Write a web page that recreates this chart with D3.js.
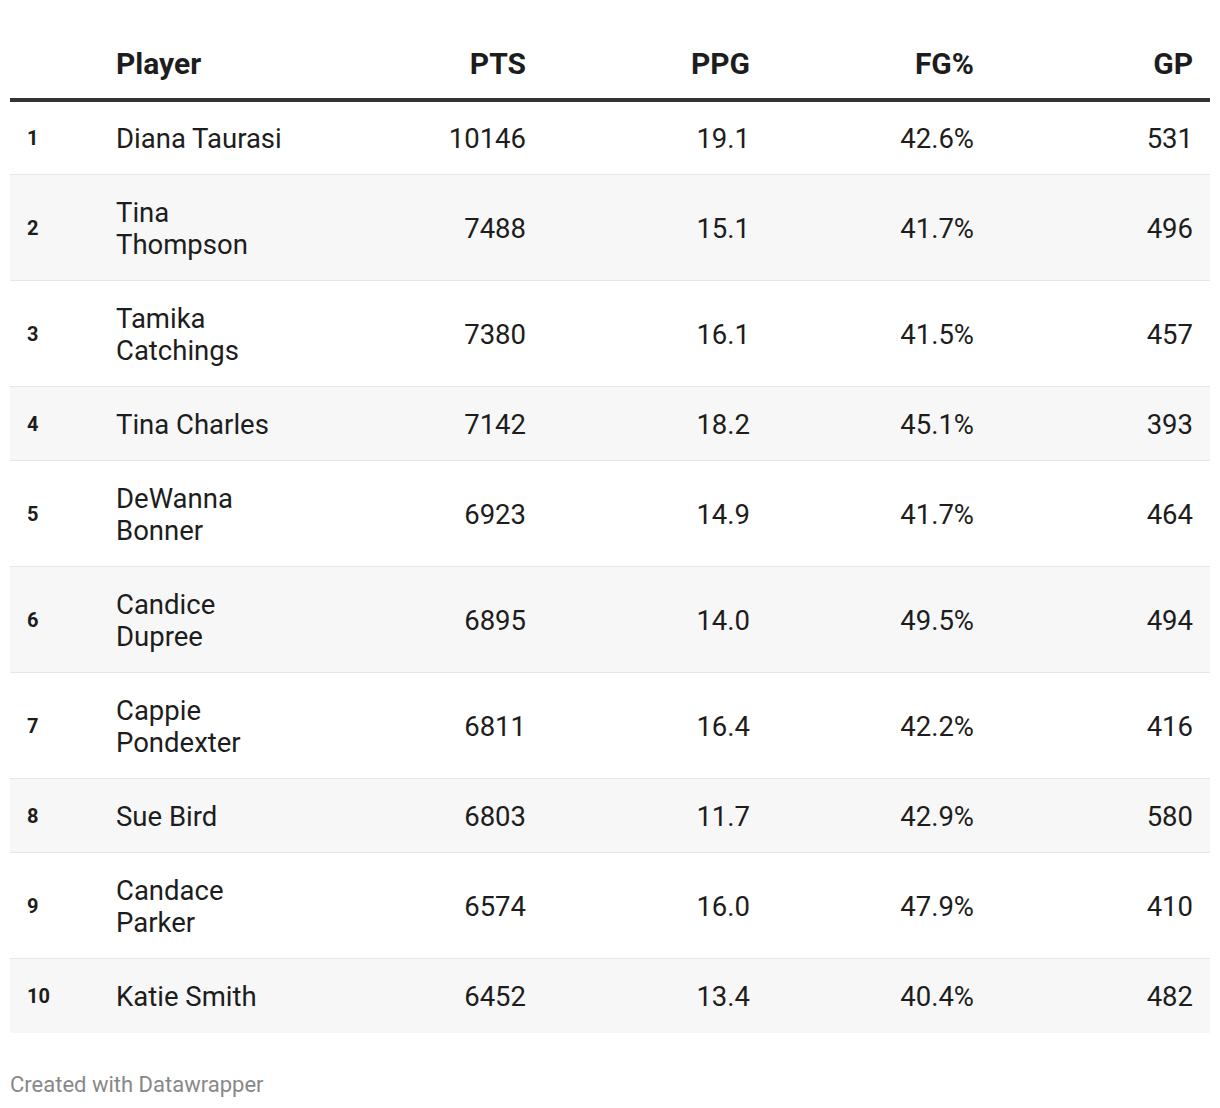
<html>
<head>
<script src="https://cdnjs.cloudflare.com/ajax/libs/d3/7.8.5/d3.min.js"></script>
<style>
  body { margin: 0; background: #fff; }
  text { font-family: Roboto, "Noto Sans", sans-serif; }
</style>
</head>
<body>
<script>
  // table data
  var columns = ["", "Player", "PTS", "PPG", "FG%", "GP"];
  var ranks   = [1, 2, 3, 4, 5, 6, 7, 8, 9, 10];
  var players = ["Diana Taurasi", "Tina Thompson", "Tamika Catchings", "Tina Charles", "DeWanna Bonner",
                 "Candice Dupree", "Cappie Pondexter", "Sue Bird", "Candace Parker", "Katie Smith"];
  var pts = [10146, 7488, 7380, 7142, 6923, 6895, 6811, 6803, 6574, 6452];
  var ppg = [19.1, 15.1, 16.1, 18.2, 14.9, 14.0, 16.4, 11.7, 16.0, 13.4];
  var fgp = [42.6, 41.7, 41.5, 45.1, 41.7, 49.5, 42.2, 42.9, 47.9, 40.4];
  var gp  = [531, 496, 457, 393, 464, 494, 416, 580, 410, 482];

  var W = 1220, H = 1108;
  var left = 10, right = 1210;
  var headerLine = 100;
  var lineH = 32, padV = 21;
  var nameWrap = 176;
  var fs = 27.5;

  var svg = d3.select("body").append("svg")
      .attr("width", W).attr("height", H);

  // word wrap player names by measuring
  var meas = svg.append("text").attr("font-size", fs);
  function wrap(name) {
    var words = name.split(" "), lines = [], cur = "";
    words.forEach(function(w) {
      var t = cur ? cur + " " + w : w;
      meas.text(t);
      if (cur && meas.node().getComputedTextLength() > nameWrap) { lines.push(cur); cur = w; }
      else cur = t;
    });
    lines.push(cur);
    return lines;
  }
  var rows = players.map(function(p, i) {
    return { rank: ranks[i], lines: wrap(p), pts: pts[i], ppg: ppg[i], fgp: fgp[i], gp: gp[i] };
  });
  meas.remove();

  var y0 = headerLine + 1;
  rows.forEach(function(r) {
    r.h = padV * 2 + lineH * r.lines.length;
    r.y = y0; y0 += r.h;
  });

  // column x positions
  var colX = d3.scaleOrdinal().domain(columns).range([27, 116, 526, 750, 974, 1193]);
  var fmt1 = d3.format(".1f");

  var g = svg.selectAll("g.row").data(rows).enter().append("g").attr("class", "row")
      .attr("transform", function(d) { return "translate(0," + d.y + ")"; });

  // row backgrounds
  g.append("rect")
      .attr("x", left).attr("width", right - left)
      .attr("height", function(d) { return d.h; })
      .attr("fill", function(d, i) { return i % 2 ? "#f7f7f7" : "#fff"; });

  g.filter(function(d, i) { return i < rows.length - 1; }).append("rect")
      .attr("x", left).attr("width", right - left)
      .attr("y", function(d) { return d.h - 1; }).attr("height", 2)
      .attr("fill", "#e6e6e6");

  // rank
  g.append("text")
      .attr("x", colX(""))
      .attr("y", function(d) { return d.h / 2 + 7; })
      .attr("font-size", 20).attr("font-weight", 700).attr("fill", "#1d1d1d")
      .text(function(d) { return d.rank; });

  // names
  g.append("text")
      .attr("font-size", fs).attr("fill", "#1d1d1d")
      .each(function(d) {
        var t = d3.select(this);
        var top = d.h / 2 - (d.lines.length - 1) * lineH / 2 + 10;
        d.lines.forEach(function(l, k) {
          t.append("tspan").attr("x", colX("Player")).attr("y", top + k * lineH).text(l);
        });
      });

  var numCols = [
    ["PTS", function(d) { return d.pts; }],
    ["PPG", function(d) { return fmt1(d.ppg); }],
    ["FG%", function(d) { return fmt1(d.fgp) + "%"; }],
    ["GP",  function(d) { return d.gp; }]
  ];
  numCols.forEach(function(c) {
    g.append("text")
        .attr("x", colX(c[0]))
        .attr("y", function(d) { return d.h / 2 + 10; })
        .attr("text-anchor", "end")
        .attr("font-size", fs).attr("fill", "#1d1d1d")
        .text(c[1]);
  });

  // header
  svg.selectAll("text.head").data(columns.slice(1)).enter().append("text")
      .attr("class", "head")
      .attr("x", function(d) { return colX(d); })
      .attr("y", 74)
      .attr("text-anchor", function(d) { return d === "Player" ? "start" : "end"; })
      .attr("font-size", 30).attr("font-weight", 700).attr("fill", "#1d1d1d")
      .text(function(d) { return d; });

  svg.append("rect")
      .attr("x", left).attr("width", right - left)
      .attr("y", headerLine - 2).attr("height", 4)
      .attr("fill", "#333");

  // footer
  svg.append("text")
      .attr("x", 10).attr("y", 1092)
      .attr("font-size", 22).attr("fill", "#888")
      .text("Created with Datawrapper");
</script>
</body>
</html>
